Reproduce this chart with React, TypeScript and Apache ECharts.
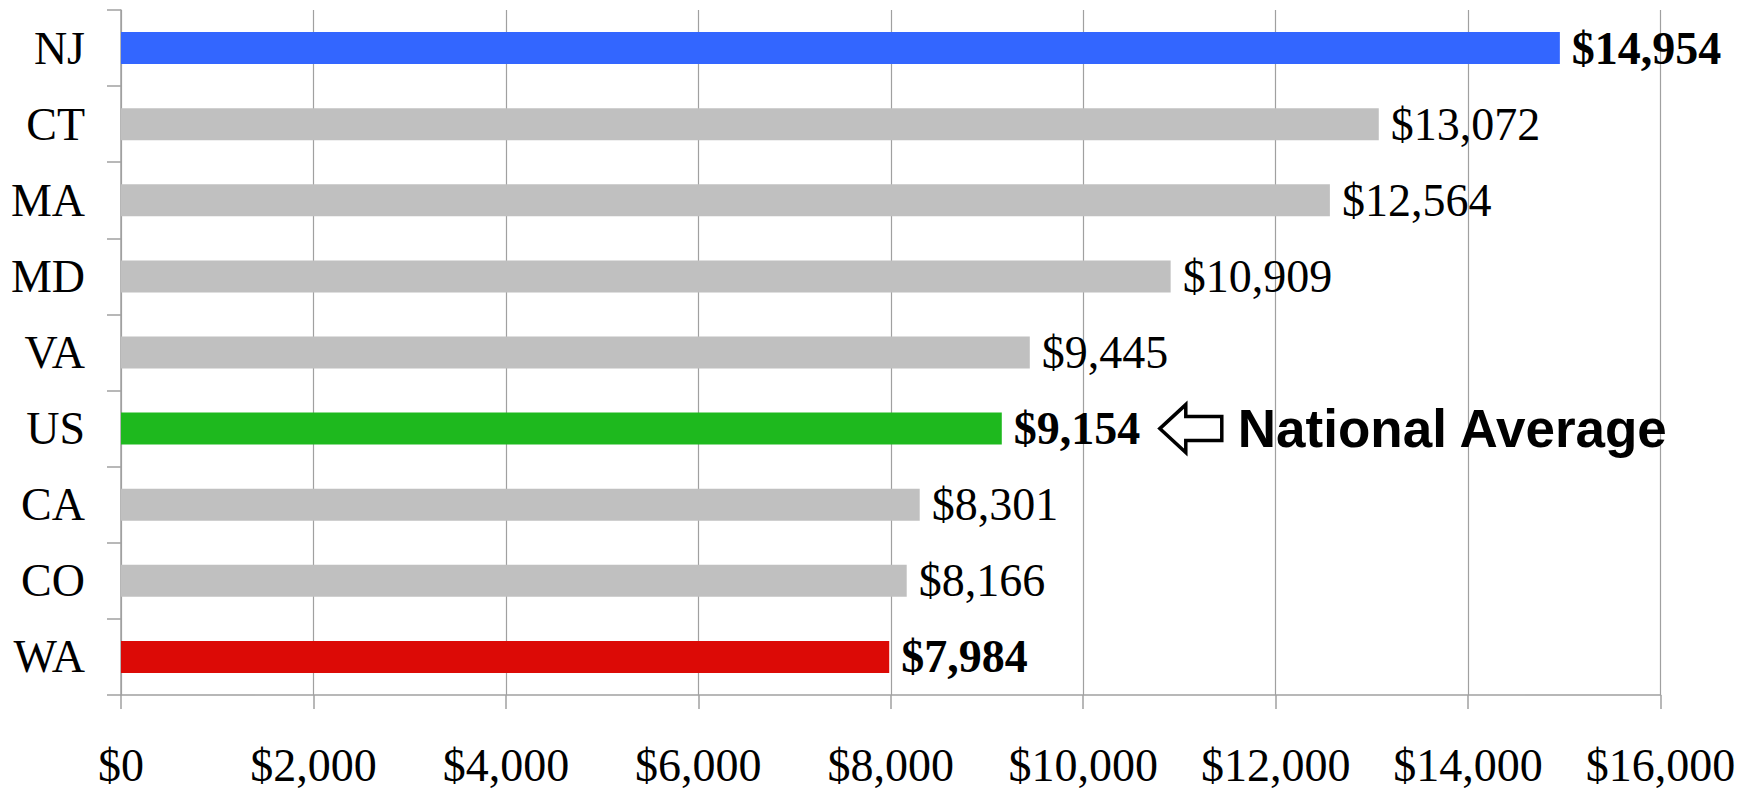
import React, { useEffect, useRef } from "react";
import * as echarts from "echarts";

const states = ["NJ", "CT", "MA", "MD", "VA", "US", "CA", "CO", "WA"];
const spending = [14954, 13072, 12564, 10909, 9445, 9154, 8301, 8166, 7984];
const barColors = ["#3366FF", "#C0C0C0", "#C0C0C0", "#C0C0C0", "#C0C0C0", "#1EB91E", "#C0C0C0", "#C0C0C0", "#DC0A06"];
const boldLabels = ["NJ", "US", "WA"];
const xMin = 0;
const xMax = 16000;
const xStep = 2000;
const annotationText = "National Average";
const annotatedState = "US";

const SERIF = "'Liberation Serif', 'Times New Roman', serif";
const SANS = "'Liberation Sans', Arial, sans-serif";
const fmt = (v: number) => "$" + v.toLocaleString("en-US");

export default function App() {
  const ref = useRef<HTMLDivElement>(null);
  useEffect(() => {
    document.body.style.margin = "0";
    if (!ref.current) return;
    const chart = echarts.init(ref.current, null, { renderer: "svg" });
    const data = spending.map((v, i) => ({
      value: v,
      itemStyle: { color: barColors[i] },
      label: { fontWeight: boldLabels.includes(states[i]) ? "bold" : "normal" },
    }));
    chart.setOption({
      animation: false,
      grid: { left: 121, top: 10, right: 97.5, bottom: 95, containLabel: false },
      xAxis: {
        type: "value",
        min: xMin,
        max: xMax,
        interval: xStep,
        axisLine: { show: true, lineStyle: { color: "#a0a0a0", width: 1.5 } },
        axisTick: { show: true, length: 14, lineStyle: { color: "#a0a0a0", width: 1.5 } },
        splitLine: { show: true, lineStyle: { color: "#a0a0a0", width: 1.2 } },
        axisLabel: {
          formatter: (v: number) => fmt(v),
          fontFamily: SERIF,
          fontSize: 46,
          color: "#000",
          margin: 47,
        },
      },
      yAxis: {
        type: "category",
        data: states,
        inverse: true,
        axisLine: { show: true, lineStyle: { color: "#a0a0a0", width: 1.5 } },
        axisTick: { show: true, length: 14, lineStyle: { color: "#a0a0a0", width: 1.5 } },
        axisLabel: { fontFamily: SERIF, fontSize: 46, color: "#000", margin: 36 },
      },
      series: [
        {
          type: "bar",
          data,
          barWidth: 32,
          label: {
            show: true,
            position: "right",
            distance: 12,
            fontFamily: SERIF,
            fontSize: 46,
            color: "#000",
            formatter: (p: any) => fmt(p.value),
          },
        },
      ],
    });

    const idx = states.indexOf(annotatedState);
    const [bx, by] = chart.convertToPixel({ gridIndex: 0 }, [spending[idx], annotatedState]) as number[];
    const tipX = bx + 158;
    const headBack = tipX + 26;
    const rightX = tipX + 62;
    chart.setOption({
      graphic: [
        {
          type: "polygon",
          shape: {
            points: [
              [tipX, by],
              [headBack, by - 24],
              [headBack, by - 12],
              [rightX, by - 12],
              [rightX, by + 12],
              [headBack, by + 12],
              [headBack, by + 24],
            ],
          },
          style: { fill: "#fff", stroke: "#000", lineWidth: 3.5, lineJoin: "miter" },
        },
        {
          type: "text",
          x: bx + 236,
          y: by,
          style: {
            text: annotationText,
            font: `bold 53px ${SANS}`,
            fill: "#000",
            verticalAlign: "middle",
            align: "left",
          },
        },
      ],
    });
    return () => chart.dispose();
  }, []);
  return <div ref={ref} style={{ width: 1758, height: 790 }} />;
}
